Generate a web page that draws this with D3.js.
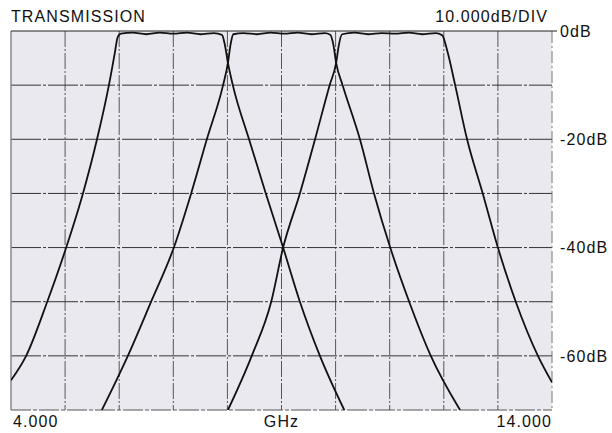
<!DOCTYPE html>
<html>
<head>
<meta charset="utf-8">
<script src="https://cdn.jsdelivr.net/npm/d3@7"></script>
<style>
  body { margin: 0; background: #fff; }
  text { font-family: "Liberation Sans", Arial, Helvetica, sans-serif; fill: #111; font-size: 16px; letter-spacing: 1.1px; }
</style>
</head>
<body>
<div id="chart"></div>
<script>
var margin = { top: 31, right: 60, bottom: 23, left: 11 },
	width = 612 - margin.left - margin.right,
	height = 433 - margin.top - margin.bottom;

// frequency (GHz) and transmission (dB) for each of the three filters
const F1_GHZ = [4.0, 4.28, 4.67, 5.02, 5.33, 5.59, 5.81, 5.92, 5.97, 6.03, 6.25, 6.5, 6.75, 7.0, 7.25, 7.5, 7.75, 7.9, 7.95, 8.01, 8.1, 8.4, 8.71, 9.03, 9.34, 9.71, 10.16];
const F1_DB = [-64.5, -60, -50, -40, -30, -20, -10, -4, -1.2, -0.5, -0.3, -0.6, -0.3, -0.5, -0.3, -0.6, -0.4, -0.7, -2.4, -5.9, -10, -20, -30, -40, -50, -60, -70];

const F2_GHZ = [5.68, 6.16, 6.59, 7.01, 7.33, 7.62, 7.92, 8.01, 8.06, 8.11, 8.3, 8.55, 8.8, 9.05, 9.3, 9.55, 9.8, 9.9, 9.96, 10.01, 10.13, 10.45, 10.71, 11.01, 11.36, 11.76, 12.3];
const F2_DB = [-70, -60, -50, -40, -30, -20, -10, -5.9, -2.4, -0.6, -0.4, -0.6, -0.3, -0.5, -0.3, -0.6, -0.4, -0.7, -2.6, -5.9, -10, -20, -30, -40, -50, -60, -70];

const F3_GHZ = [8.01, 8.45, 8.81, 9.03, 9.34, 9.62, 9.89, 10.01, 10.06, 10.12, 10.35, 10.6, 10.85, 11.1, 11.35, 11.6, 11.85, 11.97, 12.06, 12.21, 12.43, 12.72, 13.0, 13.33, 13.74, 14.0];
const F3_DB = [-70, -60, -50, -40, -30, -20, -10, -5.9, -2.6, -0.6, -0.3, -0.6, -0.4, -0.5, -0.3, -0.6, -0.4, -0.8, -3.5, -10, -20, -30, -40, -50, -60, -64.9];

const X_TICKS = [4, 5, 6, 7, 8, 9, 10, 11, 12, 13, 14];
const Y_TICKS = [0, -10, -20, -30, -40, -50, -60, -70];
const Y_LABELS = [0, -20, -40, -60];

var x = d3.scaleLinear().domain([4, 14]).range([0, width]);
var y = d3.scaleLinear().domain([-70, 0]).range([height, 0]);

var svg = d3
	.select("#chart")
	.append("svg")
	.attr("width", 612)
	.attr("height", 433)
	.append("g")
	.attr("transform", "translate(" + margin.left + "," + margin.top + ")");

svg.append("rect")
	.attr("width", width)
	.attr("height", height)
	.attr("fill", "#ebe9f0");

svg.append("clipPath")
	.attr("id", "clip")
	.append("rect")
	.attr("width", width)
	.attr("height", height);

// vertical grid
svg.selectAll("vline")
	.data(X_TICKS.slice(1, -1))
	.enter()
	.append("line")
	.attr("x1", function (d) { return x(d); })
	.attr("x2", function (d) { return x(d); })
	.attr("y1", 0)
	.attr("y2", height)
	.attr("stroke", "#555")
	.attr("stroke-width", 1)
	.attr("stroke-dasharray", "16,2,2,2");

// horizontal grid
svg.selectAll("hline")
	.data(Y_TICKS.slice(1, -1))
	.enter()
	.append("line")
	.attr("x1", 0)
	.attr("x2", width)
	.attr("y1", function (d) { return y(d); })
	.attr("y2", function (d) { return y(d); })
	.attr("stroke", "#333")
	.attr("stroke-width", 1)
	.attr("stroke-dasharray", "30,2,3,2");

// frame
svg.append("line").attr("x1", 0).attr("x2", 0).attr("y1", 0).attr("y2", height)
	.attr("stroke", "#888").attr("stroke-width", 1.5);
svg.append("line").attr("x1", width).attr("x2", width).attr("y1", 0).attr("y2", height)
	.attr("stroke", "#777").attr("stroke-width", 1).attr("stroke-dasharray", "12,3,2,3");
svg.append("line").attr("x1", 0).attr("x2", width).attr("y1", height).attr("y2", height)
	.attr("stroke", "#555").attr("stroke-width", 1).attr("stroke-dasharray", "20,2,4,2");
svg.append("line").attr("x1", 0).attr("x2", width + 5).attr("y1", 0).attr("y2", 0)
	.attr("stroke", "#222").attr("stroke-width", 1.2);

// filter curves
var line = d3.line()
	.x(function (d) { return x(d[0]); })
	.y(function (d) { return y(d[1]); })
	.curve(d3.curveMonotoneX);

[[F1_GHZ, F1_DB], [F2_GHZ, F2_DB], [F3_GHZ, F3_DB]].forEach(function (f) {
	svg.append("path")
		.datum(d3.zip(f[0], f[1]))
		.attr("clip-path", "url(#clip)")
		.attr("fill", "none")
		.attr("stroke", "#111")
		.attr("stroke-width", 1.8)
		.attr("d", line);
});

// labels
svg.selectAll("ylab")
	.data(Y_LABELS)
	.enter()
	.append("text")
	.attr("x", width + 8)
	.attr("y", function (d) { return y(d); })
	.attr("dy", "0.36em")
	.text(function (d) { return d + "dB"; });

svg.append("text").attr("x", 0).attr("y", -9).text("TRANSMISSION");
svg.append("text").attr("x", width - 4).attr("y", -9).attr("text-anchor", "end")
	.text("10.000dB/DIV");

svg.append("text").attr("x", 2).attr("y", height + 17)
	.text(d3.format(".3f")(X_TICKS[0]));
svg.append("text").attr("x", x(9)).attr("y", height + 17).attr("text-anchor", "middle")
	.text("GHz");
svg.append("text").attr("x", width).attr("y", height + 17).attr("text-anchor", "end")
	.text(d3.format(".3f")(X_TICKS[X_TICKS.length - 1]));
</script>
</body>
</html>
